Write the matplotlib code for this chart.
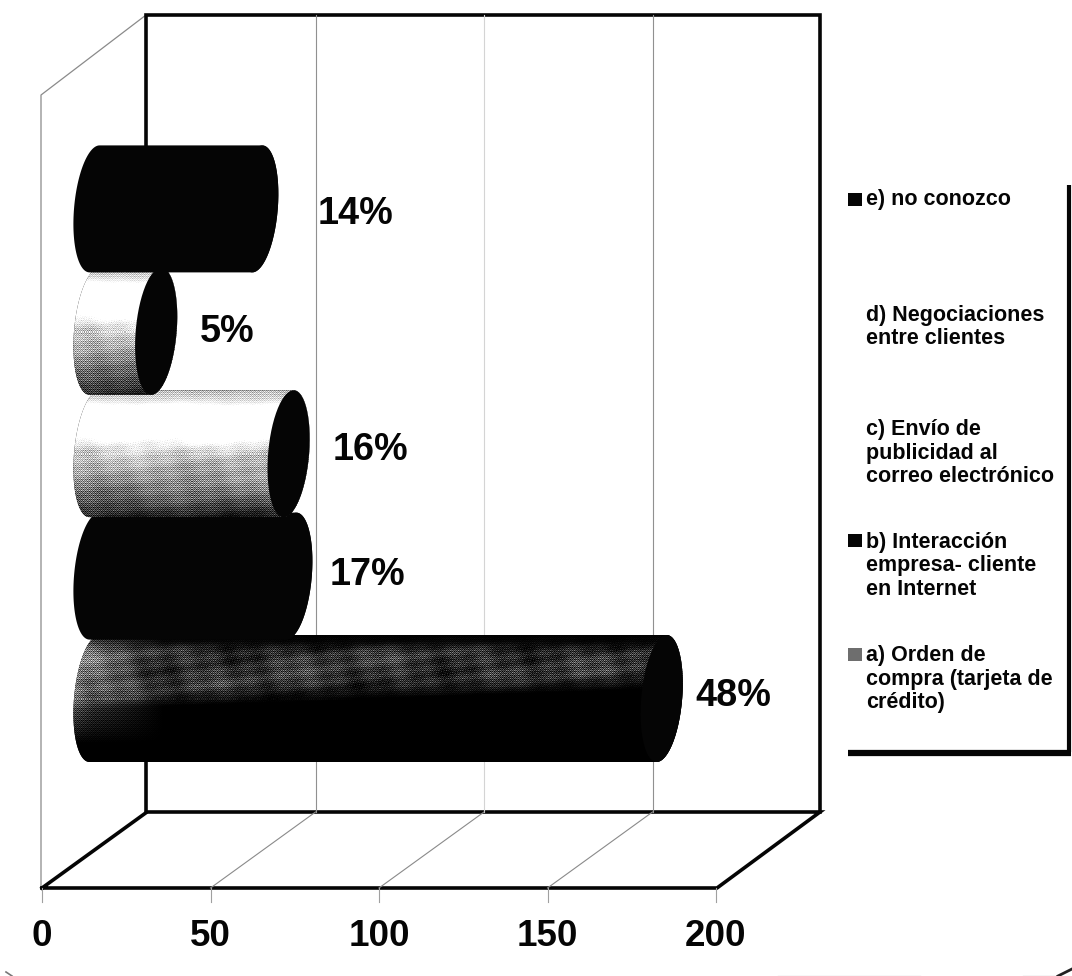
import numpy as np
import matplotlib
matplotlib.use("Agg")
import matplotlib.pyplot as plt
from matplotlib.patches import Polygon, Rectangle

plt.rcParams["font.family"] = ["Liberation Sans", "DejaVu Sans"]
plt.rcParams["font.weight"] = "bold"

# survey answers, drawn bottom to top
categories = ["a", "b", "c", "d", "e"]
values = [168.3, 58.4, 57.6, 18.3, 48.3]
x_ticks = [0, 50, 100, 150, 200]
legend_lines = {
    "e": "e) no conozco",
    "d": "d) Negociaciones\nentre clientes",
    "c": "c) Envío de\npublicidad al\ncorreo electrónico",
    "b": "b) Interacción\nempresa- cliente\nen Internet",
    "a": "a) Orden de\ncompra (tarjeta de\ncrédito)",
}

W, H = 1072, 976
PX_PER_UNIT = 3.37      # pixels for one unit on the value axis
PX_PER_CAT = 122.4      # pixels between two bars
X_ZERO = 94.5           # pixel column of value 0, half way into the depth
Y_ZERO = 698.5          # pixel row of the lowest bar
DEPTH = 52.5 / PX_PER_UNIT
BAR_RY = 63.5 / PX_PER_CAT
BAR_RX = 20.5 / PX_PER_UNIT
BAR_TILT = 5 / PX_PER_UNIT

total = sum(values)

fig = plt.figure(figsize=(W / 100, H / 100), dpi=100)

# pixel axes for the box and the legend, value axes for the bars
frame = fig.add_axes([0, 0, 1, 1])
frame.set_xlim(0, W)
frame.set_ylim(H, 0)
frame.set_axis_off()

ax = fig.add_axes([0, 0, 1, 1])
ax.patch.set_visible(False)
ax.set_axis_off()
xlim = (-X_ZERO / PX_PER_UNIT, (W - X_ZERO) / PX_PER_UNIT)
ylim = ((Y_ZERO - H) / PX_PER_CAT, Y_ZERO / PX_PER_CAT)

BLACK = "#050505"

# walls and floor
frame.plot([146, 146, 820, 820], [812, 15, 15, 812], color=BLACK, lw=2.6, solid_joinstyle="miter", zorder=2)
frame.plot([42, 717, 820, 147, 42], [888, 888, 812, 812, 888], color=BLACK, lw=2.6, solid_joinstyle="miter", zorder=2)
frame.plot([41, 41, 146], [888, 95, 15], color="#8a8a8a", lw=0.9, zorder=1)

# legend box, open on the top and the left
frame.plot([1069, 1069], [185, 752], color=BLACK, lw=3, solid_capstyle="butt", zorder=2)
frame.plot([848, 1070.5], [753, 753], color=BLACK, lw=4.5, solid_capstyle="butt", zorder=2)

# worn page edge at the bottom
frame.plot([6, 12], [972, 976], color="#777777", lw=1.2)
frame.plot([778, 920], [975.5, 975.5], color="#d8d8d8", lw=1)
frame.plot([1023, 1056], [975.5, 975.5], color="#cccccc", lw=1)
frame.plot([1058, 1072], [976, 969], color="#222222", lw=2)

# gridlines on the back wall and the floor, ticks below the floor
ybot = (Y_ZERO - 812) / PX_PER_CAT
ytop = (Y_ZERO - 15) / PX_PER_CAT
yfront = (Y_ZERO - 888) / PX_PER_CAT
ytick = (Y_ZERO - 902) / PX_PER_CAT
ylabel = (Y_ZERO - 936) / PX_PER_CAT
for t in x_ticks:
    if 0 < t < 200:
        shade = "#d4d4d4" if t == 100 else "#909090"
        ax.plot([t + DEPTH, t + DEPTH], [ybot, ytop], color=shade, lw=0.8, zorder=1)
        ax.plot([t - DEPTH, t + DEPTH], [yfront, ybot], color="#8a8a8a", lw=0.8, zorder=1)
    ax.plot([t - DEPTH, t - DEPTH], [yfront, ytick], color="#a0a0a0", lw=0.8, zorder=1)
    ax.text(t - DEPTH, ylabel, str(t), ha="center", va="center", fontsize=26.5, color=BLACK)

# 4x4 ordered dither, gives the printed halftone look
BAYER = np.array([[0, 8, 2, 10], [12, 4, 14, 6], [3, 11, 1, 9], [15, 7, 13, 5]]) / 16 + 1 / 32


def halftone(level):
    rows, cols = level.shape
    mask = np.tile(BAYER, (rows // 4 + 1, cols // 4 + 1))[:rows, :cols]
    # the grain fades out where the tone is pure black or pure white
    strength = np.clip(4 * level * (1 - level), 0, 1)
    return np.clip(level + 0.7 * (mask - 0.5) * strength, 0, 1)


def cloud(rows, cols):
    yy, xx = np.mgrid[0:rows, 0:cols]
    return (0.5 * np.sin(xx / 23 + yy / 31) * np.sin(yy / 11 - xx / 47)
            + 0.4 * np.sin(xx / 7.3 + yy / 5.1) * np.sin(xx / 13.7 - yy / 3.9)
            + 0.5 * np.sin(xx * 1.73 + yy * 2.31) * np.sin(xx * 0.91 - yy * 1.37))


def light_shade(rows, cols):
    t = np.linspace(0, 1, rows)
    base = np.interp(t, [0, 0.07, 0.16, 0.34, 0.5, 0.7, 0.86, 1], [0.72, 0.86, 1.15, 1.15, 0.78, 0.6, 0.36, 0.12])
    fade = np.interp(t, [0, 0.3, 0.5, 1], [0.3, 0.3, 1, 0.6])[:, None]
    return base[:, None] + 0.14 * cloud(rows, cols) * fade


def dark_shade(rows, cols):
    t = np.linspace(0, 1, rows)
    xx = np.arange(cols)
    # the speckled band gets narrower towards the far end of the cylinder
    edge = np.interp(xx, [0, cols], [0.58, 0.42])[None, :]
    band = np.clip((edge - t[:, None]) / 0.14, 0, 1)
    top = np.interp(t, [0, 0.05, 0.14], [0.02, 0.12, 1])[:, None]
    left = np.interp(xx, [0, 20, 90], [0.36, 0.2, 0])[None, :] * np.interp(t, [0, 0.5, 0.85], [1, 1, 0])[:, None]
    return 0.2 * band * top * (1 + 0.9 * cloud(rows, cols)) + left


shades = {"a": dark_shade, "b": None, "c": light_shade, "d": light_shade, "e": None}


def end_curve(cx, cy, start, stop):
    # sheared ellipse, the ends of the cylinders lean slightly to the right
    ang = np.radians(np.linspace(start, stop, 60))
    return np.column_stack([cx + BAR_RX * np.cos(ang) + BAR_TILT * np.sin(ang), cy + BAR_RY * np.sin(ang)])


for i, (cat, val) in enumerate(zip(categories, values)):
    z = 3 + i
    outline = np.vstack([end_curve(0, i, 90, 270), end_curve(val, i, -90, 90)])
    body = Polygon(outline, closed=True, facecolor=BLACK, edgecolor="none", zorder=z)
    ax.add_patch(body)
    shade = shades[cat]
    if shade is not None:
        x0, x1 = outline[:, 0].min(), outline[:, 0].max()
        cols = int((x1 - x0) * PX_PER_UNIT)
        rows = int(2 * BAR_RY * PX_PER_CAT)
        im = ax.imshow(halftone(shade(rows, cols)), cmap="gray", vmin=0, vmax=1, aspect="auto",
                       interpolation="nearest", extent=(x0, x1, i - BAR_RY, i + BAR_RY), zorder=z + 0.1)
        im.set_clip_path(body)
    cap = Polygon(end_curve(val, i, 0, 360), closed=True, facecolor=BLACK, edgecolor="none", zorder=z + 0.2)
    ax.add_patch(cap)

ax.set_xlim(*xlim)
ax.set_ylim(*ylim)

# percentage next to each cylinder
label_offset = {"a": (34, 2), "b": (38, 1), "c": (44, 4), "d": (44, -1), "e": (60, -5)}
for i, (cat, val) in enumerate(zip(categories, values)):
    dx, dy = label_offset[cat]
    ax.annotate(f"{round(val / total * 100)}%", xy=(val, i), xytext=(dx, dy), textcoords="offset pixels",
                ha="left", va="center", fontsize=27.2, color=BLACK, zorder=20)

# legend entries, d and c have no visible swatch
legend_y = {"e": 200, "d": 327, "c": 453, "b": 566, "a": 679}
swatch_y = {"e": 199.5, "b": 540, "a": 654}
swatch_color = {"e": BLACK, "b": BLACK, "a": "#6e6e6e"}
for cat, label in legend_lines.items():
    frame.text(866, legend_y[cat], label, ha="left", va="center", fontsize=15.5, color=BLACK, linespacing=1.14)
    if cat in swatch_y:
        frame.add_patch(Rectangle((848, swatch_y[cat] - 6.5), 13.5, 13, facecolor=swatch_color[cat], edgecolor="none"))

fig.savefig("out.png", dpi=100, facecolor="white")
